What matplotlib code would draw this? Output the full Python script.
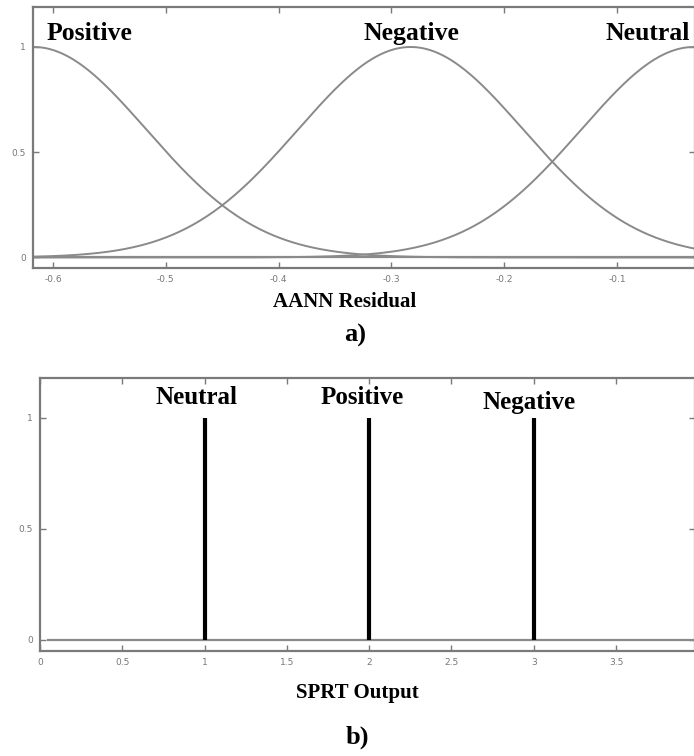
import numpy as np
import matplotlib
matplotlib.use("Agg")
import matplotlib.pyplot as plt

# ---- data ----
# a) Gaussian membership functions of the AANN residual (centre, sigma)
mf_names = ["Positive", "Negative", "Neutral"]
mf_centers = [-0.617, -0.283, -0.032]
mf_sigmas = [0.100, 0.100, 0.100]
resid_range = [-0.6177, -0.031]
resid_ticks = [-0.6, -0.5, -0.4, -0.3, -0.2, -0.1]
resid_ticklabels = ["-0.6", "-0.5", "-0.4", "-0.3", "-0.2", "-0.1"]

# b) Singleton outputs of the SPRT
sprt_names = ["Neutral", "Positive", "Negative"]
sprt_pos = [1, 2, 3]
sprt_height = [1, 1, 1]
sprt_ticks = [0, 0.5, 1, 1.5, 2, 2.5, 3, 3.5]
sprt_ticklabels = ["0", "0.5", "1", "1.5", "2", "2.5", "3", "3.5"]
y_ticks = [0, 0.5, 1]
y_ticklabels = ["0", "0.5", "1"]

W, H = 694, 756
fig = plt.figure(figsize=(W / 100, H / 100), dpi=100)
fig.patch.set_facecolor("white")

serif = ["Liberation Serif", "DejaVu Serif"]
gray = "#8a8a8a"
spine_c = "#7a7a7a"

def px_axes(l, t, r, b):
    return fig.add_axes([l / W, 1 - b / H, (r - l) / W, (b - t) / H])

def style(ax):
    for s in ax.spines.values():
        s.set_color(spine_c)
        s.set_linewidth(1.6)
    ax.tick_params(direction="in", length=4, width=1, color=spine_c,
                   labelsize=6.5, labelcolor="#777777",
                   top=True, right=True, pad=5)

# ---- a) ----
ax1 = px_axes(33, 7, 695, 268)
x = np.linspace(resid_range[0], resid_range[1], 600)
for c, s in zip(mf_centers, mf_sigmas):
    ax1.plot(x, np.exp(-((x - c) ** 2) / (2 * s ** 2)), color=gray, lw=1.4)
ax1.axhline(0, color=gray, lw=1.6)
ax1.set_xlim(resid_range)
ax1.set_ylim(-0.05, 1.19)
ax1.set_xticks(resid_ticks)
ax1.set_xticklabels(resid_ticklabels)
ax1.set_yticks(y_ticks)
ax1.set_yticklabels(y_ticklabels)
style(ax1)
label_x_a = [-0.568, -0.282, -0.073]
for name, lx in zip(mf_names, label_x_a):
    ax1.text(lx, 1.065, name, ha="center", va="center", family=serif,
             fontweight="bold", fontsize=18.5)
fig.text(345 / W, 1 - 302 / H, "AANN Residual", ha="center", va="center",
         family=serif, fontweight="bold", fontsize=15)
fig.text(355 / W, 1 - 335 / H, "a)", ha="center", va="center",
         family=serif, fontweight="bold", fontsize=19)

# ---- b) ----
ax2 = px_axes(40, 378, 695, 651)
ax2.plot([0.05, 4.0], [0, 0], color=gray, lw=1.6)
ax2.vlines(sprt_pos, 0, sprt_height, color="black", lw=3)
ax2.set_xlim(0, 3.98)
ax2.set_ylim(-0.05, 1.18)
ax2.set_xticks(sprt_ticks)
ax2.set_xticklabels(sprt_ticklabels)
ax2.set_yticks(y_ticks)
ax2.set_yticklabels(y_ticklabels)
style(ax2)
label_y_b = [1.09, 1.09, 1.07]
label_x_b = [0.95, 1.96, 2.97]
for name, lx, ly in zip(sprt_names, label_x_b, label_y_b):
    ax2.text(lx, ly, name, ha="center", va="center", family=serif,
             fontweight="bold", fontsize=18)
fig.text(357 / W, 1 - 693 / H, "SPRT Output", ha="center", va="center",
         family=serif, fontweight="bold", fontsize=15)
fig.text(357 / W, 1 - 737 / H, "b)", ha="center", va="center",
         family=serif, fontweight="bold", fontsize=19)

fig.savefig("out.png", dpi=100, facecolor="white")
